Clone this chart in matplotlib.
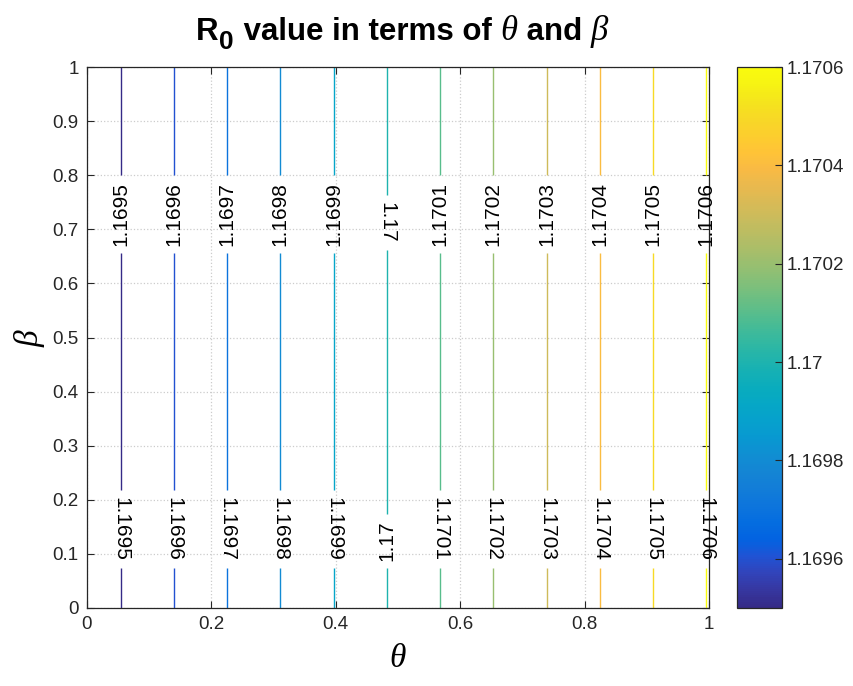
import numpy as np
import matplotlib
matplotlib.use("Agg")
import matplotlib.pyplot as plt
from matplotlib.colors import LinearSegmentedColormap, Normalize

# ---- data ----
theta_edges = [0.0, 1.0]                 # theta range
r0_edges = [1.169437, 1.170605]          # R0 at theta=0 and theta=1 (linear, independent of beta)
beta_edges = [0.0, 1.0]
levels = [1.1695, 1.1696, 1.1697, 1.1698, 1.1699, 1.1700,
          1.1701, 1.1702, 1.1703, 1.1704, 1.1705, 1.1706]
level_labels = ["1.1695", "1.1696", "1.1697", "1.1698", "1.1699", "1.17",
                "1.1701", "1.1702", "1.1703", "1.1704", "1.1705", "1.1706"]
clim = [1.1695, 1.1706]
cbar_ticks = [1.1696, 1.1698, 1.1700, 1.1702, 1.1704, 1.1706]
cbar_ticklabels = ["1.1696", "1.1698", "1.17", "1.1702", "1.1704", "1.1706"]
xticks = [0, 0.2, 0.4, 0.6, 0.8, 1]
xticklabels = ["0", "0.2", "0.4", "0.6", "0.8", "1"]
yticks = [0, 0.1, 0.2, 0.3, 0.4, 0.5, 0.6, 0.7, 0.8, 0.9, 1]
yticklabels = ["0", "0.1", "0.2", "0.3", "0.4", "0.5", "0.6", "0.7", "0.8", "0.9", "1"]

# parula colormap anchors
parula = [
    (0.2081, 0.1663, 0.5292), (0.2123, 0.2138, 0.6270), (0.1959, 0.2645, 0.7279),
    (0.1253, 0.3242, 0.8303), (0.0117, 0.3875, 0.8820), (0.0165, 0.4266, 0.8786),
    (0.0498, 0.4586, 0.8641), (0.0723, 0.4887, 0.8467), (0.0793, 0.5200, 0.8312),
    (0.0641, 0.5570, 0.8240), (0.0343, 0.5966, 0.8199), (0.0239, 0.6287, 0.8038),
    (0.0228, 0.6535, 0.7768), (0.0384, 0.6743, 0.7436), (0.0843, 0.6928, 0.7062),
    (0.1453, 0.7098, 0.6646), (0.2178, 0.7250, 0.6193), (0.3022, 0.7376, 0.5712),
    (0.3953, 0.7459, 0.5244), (0.4871, 0.7491, 0.4840), (0.5709, 0.7485, 0.4494),
    (0.6473, 0.7456, 0.4188), (0.7184, 0.7411, 0.3905), (0.7858, 0.7356, 0.3633),
    (0.8507, 0.7299, 0.3360), (0.9139, 0.7258, 0.3063), (0.9739, 0.7314, 0.2666),
    (0.9990, 0.7653, 0.2164), (0.9880, 0.8066, 0.1794), (0.9697, 0.8481, 0.1475),
    (0.9589, 0.8949, 0.1132), (0.9661, 0.9514, 0.0755), (0.9763, 0.9831, 0.0538)]
cmap = LinearSegmentedColormap.from_list("parula", parula, N=256)

plt.rcParams["font.family"] = ["Liberation Sans", "DejaVu Sans"]
plt.rcParams["mathtext.fontset"] = "custom"
plt.rcParams["mathtext.rm"] = "Liberation Sans"
plt.rcParams["mathtext.bf"] = "Liberation Sans:bold"
plt.rcParams["mathtext.it"] = "Liberation Serif:italic"

W, H = 854, 686
fig = plt.figure(figsize=(W / 100, H / 100), dpi=100)
ax = fig.add_axes([87 / W, 1 - 608 / H, (709 - 87) / W, (608 - 67) / H])
cax = fig.add_axes([737 / W, 1 - 608 / H, (782 - 737) / W, (608 - 67) / H])

theta = np.linspace(theta_edges[0], theta_edges[1], 401)
beta = np.linspace(beta_edges[0], beta_edges[1], 201)
T, B = np.meshgrid(theta, beta)
Z = np.interp(T, theta_edges, r0_edges)

norm = Normalize(vmin=clim[0], vmax=clim[1])
cs = ax.contour(T, B, Z, levels=levels, cmap=cmap, norm=norm, linewidths=1.0)

fmt = {lv: lab for lv, lab in zip(levels, level_labels)}
positions = []
for lv, lab in zip(levels, level_labels):
    th = np.interp(lv, r0_edges, theta_edges)
    if lab == "1.17":
        positions.append((th, 0.712))
        positions.append((th, 0.124))
    else:
        positions.append((th, 0.728))
        positions.append((th, 0.146))
labels = ax.clabel(cs, levels, inline=True, inline_spacing=7, fmt=fmt,
                   manual=positions, fontsize=15, colors="black")
for t in labels:
    x, y = t.get_position()
    txt = t.get_text()
    if y > 0.5:
        rot = 270 if txt == "1.17" else 90
    else:
        rot = 90 if txt == "1.17" else 270
    t.set_rotation(rot)
    t.set_rotation_mode("anchor")
    t.set_ha("center")
    t.set_va("center")
    t.set_clip_on(False)

ax.set_xlim(0, 1)
ax.set_ylim(0, 1)
ax.set_xticks(xticks)
ax.set_xticklabels(xticklabels)
ax.set_yticks(yticks)
ax.set_yticklabels(yticklabels)
ax.tick_params(direction="in", top=True, right=True, labelsize=13.5,
               length=5, width=0.8, colors="#262626", pad=6)
ax.grid(True, linestyle=":", color="#cccccc", linewidth=0.9)
for sp in ax.spines.values():
    sp.set_color("#262626")
    sp.set_linewidth(0.9)

ax.set_xlabel(r"$\theta$", fontsize=24, labelpad=7)
ax.set_ylabel(r"$\beta$", fontsize=24, labelpad=4)

# title built from pieces (large bold subscript, serif italic greek)
bold = dict(fontsize=22.5, fontweight="bold", family="Liberation Sans")
greek = dict(fontsize=25, style="italic", family="Liberation Serif")
pieces = [("R", bold, 0), ("0", dict(bold, fontsize=19), -9),
          (" value in terms of ", bold, 0), ("\u03b8", greek, 0),
          (" and ", bold, 0), ("\u03b2", greek, 0)]
renderer = fig.canvas.get_renderer()
baseline = 40
texts = []
xpos = 0.0
for s, props, dy in pieces:
    t = fig.text(0, 0, s, ha="left", va="baseline", color="black", **props)
    w = t.get_window_extent(renderer).width
    texts.append((t, xpos, dy))
    xpos += w + (2 if s == "0" else 0)
x0 = 402 - xpos / 2
for t, xo, dy in texts:
    t.set_position(((x0 + xo) / W, 1 - (baseline - dy) / H))

cb = matplotlib.colorbar.ColorbarBase(cax, cmap=cmap, norm=norm)
cb.set_ticks(cbar_ticks)
cb.set_ticklabels(cbar_ticklabels)
cax.tick_params(direction="in", labelsize=13.5, length=5, colors="#262626")
cb.outline.set_edgecolor("#262626")
cb.outline.set_linewidth(0.9)

fig.savefig("out.png", dpi=100)
